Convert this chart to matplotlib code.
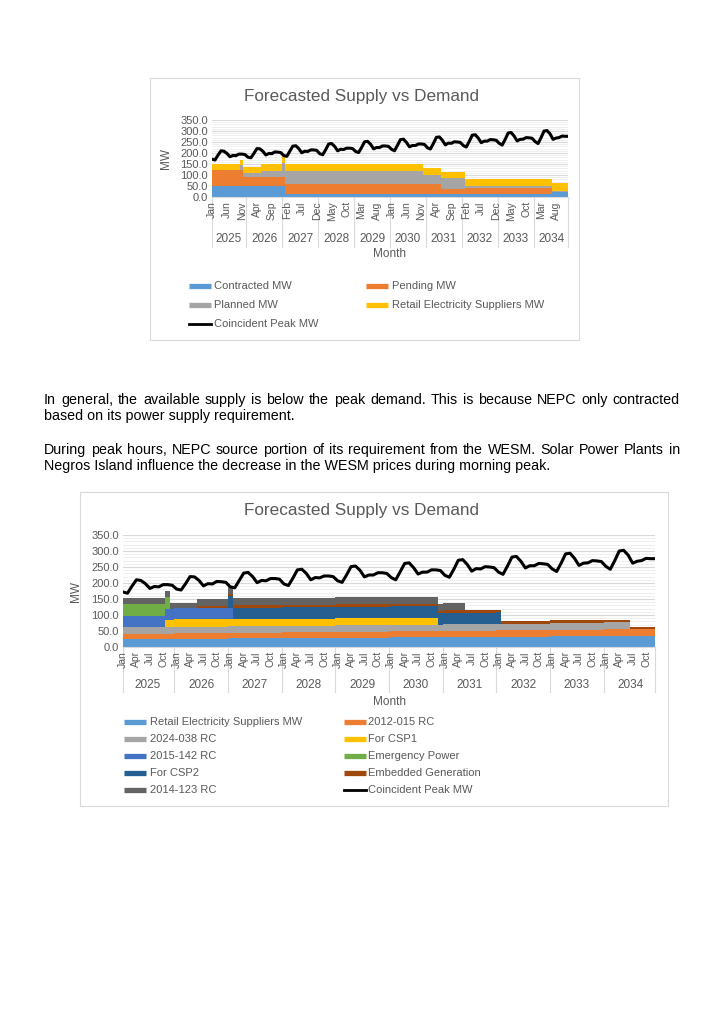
import numpy as np
import matplotlib
matplotlib.use('Agg')
import matplotlib.pyplot as plt
from matplotlib.patches import Rectangle

plt.rcParams['font.family'] = ['Liberation Sans', 'DejaVu Sans']

W, H = 724, 1024
GREY_TXT = '#595959'

month_names = ['Jan', 'Feb', 'Mar', 'Apr', 'May', 'Jun',
               'Jul', 'Aug', 'Sep', 'Oct', 'Nov', 'Dec']
years = [2025, 2026, 2027, 2028, 2029, 2030, 2031, 2032, 2033, 2034]

# coincident peak demand, MW, Jan..Dec of each year
peak_mw = [
    172, 168, 190, 210, 208, 198, 183, 189, 188, 195, 195, 193,  # 2025
    181, 178, 198, 220, 219, 208, 191, 198, 197, 205, 204, 202,  # 2026
    188, 185, 208, 231, 233, 220, 201, 208, 207, 214, 214, 212,  # 2027
    197, 192, 215, 241, 243, 230, 210, 217, 216, 222, 222, 220,  # 2028
    207, 202, 225, 251, 253, 240, 219, 225, 225, 232, 232, 230,  # 2029
    217, 210, 235, 261, 263, 248, 228, 234, 234, 241, 241, 239,  # 2030
    224, 218, 243, 271, 273, 258, 237, 245, 244, 251, 250, 248,  # 2031
    234, 227, 253, 281, 283, 268, 247, 254, 254, 261, 260, 258,  # 2032
    244, 236, 262, 291, 293, 277, 255, 262, 263, 270, 269, 267,  # 2033
    252, 243, 270, 300, 302, 287, 262, 268, 270, 277, 276, 276,  # 2034
]

# ---- first chart (supply by status), monthly MW
contracted_mw = [50] * 25 + [15] * 89 + [22] * 6
pending_mw = [75] * 11 + [40] * 14 + [43] * 52 + [23] * 8 + [25] * 29 + [0] * 6
planned_mw = ([0] * 10 + [20] * 7 + [30] * 7 + [65] + [62] * 46 + [42] * 6
              + [47] * 8 + [8] * 29 + [6] * 6)
res_top_mw = [25] * 11 + [28] * 13 + [30] * 47 + [33] * 6 + [30] * 8 + [32] * 29 + [35] * 6

# ---- second chart (supply by contract), monthly MW
res_by_year = [25, 26, 27, 28, 29, 30, 31, 32, 33, 34]
rc_2012_015_by_year = [17, 17, 18, 18, 19, 19, 20, 20, 21, 22]
rc_2024_038 = [21] * 114 + [0] * 6
csp1 = [0] * 10 + [22] * 61 + [0] * 49
rc_2015_142 = [35] * 25 + [0] * 95
emergency = [37] * 11 + [0] * 109
csp2 = [0] * 24 + [35] * 61 + [0] * 35
embedded = [0] * 17 + [8] * 97 + [6] * 6
rc_2014_123 = [18] * 17 + [21] * 60 + [0] * 43

res_mw = np.repeat(res_by_year, 12)
rc_2012_015 = np.repeat(rc_2012_015_by_year, 12)

x = np.arange(len(peak_mw))
n = len(peak_mw)

fig = plt.figure(figsize=(W / 100, H / 100), dpi=100)
page = fig.add_axes([0, 0, 1, 1])
page.set_xlim(0, W)
page.set_ylim(H, 0)
page.axis('off')
page.set_zorder(0)


def make_chart(box, plot, series, colors, labels, tick_step, legend_pos, ylab_x,
               title_y, year_y, sep_bottom, month_y):
    L, T, R, B = plot
    page.add_patch(Rectangle((box[0], box[1]), box[2], box[3], fill=False,
                             edgecolor='#D9D9D9', lw=0.8))
    ax = fig.add_axes([L / W, 1 - B / H, (R - L) / W, (B - T) / H])
    ax.set_zorder(1)
    ax.patch.set_alpha(0)
    lower = np.zeros(n)
    for s, c in zip(series, colors):
        upper = lower + np.asarray(s, dtype=float)
        ax.fill_between(x, lower, upper, step='mid', color=c, lw=0)
        lower = upper
    ax.plot(x, peak_mw, color='black', lw=2.2, solid_joinstyle='round')
    ax.set_xlim(0, n - 1)
    ax.set_ylim(0, 350)
    ax.set_yticks(range(0, 351, 50))
    ax.set_yticklabels(['{:.1f}'.format(v) for v in range(0, 351, 50)])
    ax.set_yticks(range(0, 351, 10), minor=True)
    ax.grid(which='major', axis='y', color='#D9D9D9', lw=0.8)
    ax.grid(which='minor', axis='y', color='#EDEDED', lw=0.6)
    ax.set_axisbelow(True)
    for s in ['top', 'right', 'left']:
        ax.spines[s].set_visible(False)
    ax.spines['bottom'].set_color('#D9D9D9')
    ticks = list(range(0, n, tick_step))
    ax.set_xticks(ticks)
    ax.set_xticklabels([month_names[i % 12] for i in ticks], rotation=90)
    ax.tick_params(axis='x', length=0, pad=3, labelsize=7.5, labelcolor=GREY_TXT)
    ax.tick_params(axis='y', which='both', length=0, pad=3, labelsize=8, labelcolor=GREY_TXT)

    def px(i):
        return L + i / (n - 1) * (R - L)

    for k, yr in enumerate(years):
        page.text(px(12 * k + 5.5), year_y, str(yr), ha='center', va='center',
                  fontsize=8.5, color=GREY_TXT)
    seps = [0] + [12 * k - 0.5 for k in range(1, 10)] + [n - 1]
    for s in seps:
        page.plot([px(s), px(s)], [B, sep_bottom], color='#D9D9D9', lw=0.8)

    page.text((L + R) / 2, month_y, 'Month', ha='center', va='center',
              fontsize=8.5, color=GREY_TXT)
    page.text(ylab_x, (T + B) / 2, 'MW', ha='center', va='center', rotation=90,
              fontsize=8.5, color=GREY_TXT)
    page.text(362, title_y, 'Forecasted Supply vs Demand', ha='center', va='center',
              fontsize=12.3, color=GREY_TXT)

    for (hx, ty, tx), lab, col in zip(legend_pos, labels, colors + ['black']):
        if col == 'black':
            page.plot([hx, hx + 22], [ty, ty], color='black', lw=2)
        else:
            page.plot([hx, hx + 22], [ty, ty], color=col, lw=3.8, solid_capstyle='butt')
        page.text(tx, ty, lab, ha='left', va='center', fontsize=8, color=GREY_TXT)
    return ax


# first chart
top_labels = ['Contracted MW', 'Pending MW', 'Planned MW',
              'Retail Electricity Suppliers MW', 'Coincident Peak MW']
top_colors = ['#5B9BD5', '#ED7D31', '#A5A5A5', '#FFC000']
top_leg = [(189, 286, 214), (366, 286, 392), (189, 305, 214), (366, 305, 392),
           (189, 324, 214)]
make_chart((150, 78, 429, 262), (212, 120, 568, 197),
           [contracted_mw, pending_mw, planned_mw, res_top_mw],
           top_colors, top_labels, 5, top_leg, 166, 97, 239, 247, 254)

# second chart
bot_labels = ['Retail Electricity Suppliers MW', '2012-015 RC', '2024-038 RC', 'For CSP1',
              '2015-142 RC', 'Emergency Power', 'For CSP2', 'Embedded Generation',
              '2014-123 RC', 'Coincident Peak MW']
bot_colors = ['#5B9BD5', '#ED7D31', '#A5A5A5', '#FFC000', '#4472C4',
              '#70AD47', '#255E91', '#9E480E', '#636363']
bot_leg = []
for r in range(5):
    bot_leg.append((124, 722 + 17 * r, 150))
    bot_leg.append((344, 722 + 17 * r, 368))
make_chart((80, 492, 588, 314), (123, 535, 655, 647),
           [res_mw, rc_2012_015, rc_2024_038, csp1, rc_2015_142, emergency,
            csp2, embedded, rc_2014_123],
           bot_colors, bot_labels, 3, bot_leg, 76, 511, 685, 692, 702)

# body text between the charts
body_fs = 10.3
renderer = fig.canvas.get_renderer()


def text_line(line, y, justify):
    if not justify:
        page.text(44, y, line, fontsize=body_fs, va='baseline', color='black')
        return
    words = line.split()
    txts = [page.text(0, y, w, fontsize=body_fs, va='baseline', color='black') for w in words]
    widths = [t.get_window_extent(renderer).width for t in txts]
    gap = (680 - 44 - sum(widths)) / (len(words) - 1)
    xpos = 44
    for t, w in zip(txts, widths):
        t.set_x(xpos)
        xpos += w + gap


text_line('In general, the available supply is below the peak demand. This is because NEPC only contracted', 404, True)
text_line('based on its power supply requirement.', 420, False)
text_line('During peak hours, NEPC source portion of its requirement from the WESM. Solar Power Plants in', 454, True)
text_line('Negros Island influence the decrease in the WESM prices during morning peak.', 470, False)

fig.savefig('out.png', dpi=100)
